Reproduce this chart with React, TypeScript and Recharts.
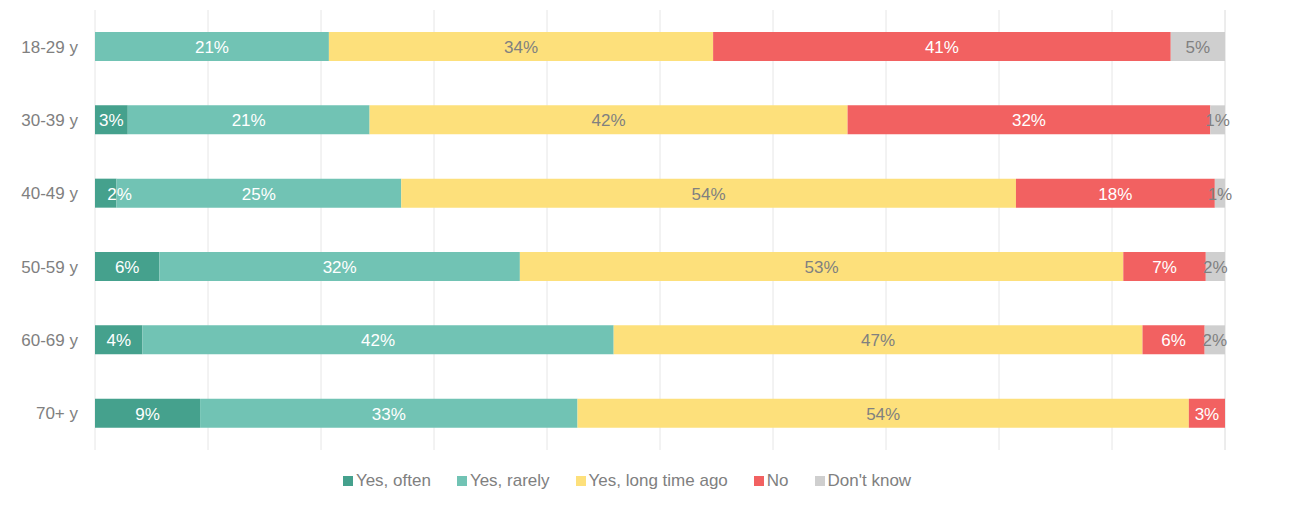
import React from "react";
import { BarChart, Bar, XAxis, YAxis, CartesianGrid, LabelList, Legend } from "recharts";

const categories = ["18-29 y", "30-39 y", "40-49 y", "50-59 y", "60-69 y", "70+ y"];
const yesOften = [0, 2.9, 1.9, 5.7, 4.2, 9.3];
const yesRarely = [20.7, 21.4, 25.2, 31.9, 41.7, 33.4];
const yesLongAgo = [34.0, 42.3, 54.4, 53.4, 46.8, 54.1];
const no = [40.5, 32.1, 17.6, 7.3, 5.5, 3.2];
const dontKnow = [4.8, 1.3, 0.9, 1.7, 1.8, 0];
const xTicks = [0, 10, 20, 30, 40, 50, 60, 70, 80, 90, 100];

const series = [
  { key: "often", name: "Yes, often", color: "#45a18d", label: "#ffffff" },
  { key: "rarely", name: "Yes, rarely", color: "#71c3b4", label: "#ffffff" },
  { key: "long", name: "Yes, long time ago", color: "#fde07b", label: "#808080" },
  { key: "no", name: "No", color: "#f26161", label: "#ffffff" },
  { key: "dk", name: "Don't know", color: "#cfcfcf", label: "#808080" },
];

const data = categories.map((name, i) => ({
  name,
  often: yesOften[i],
  rarely: yesRarely[i],
  long: yesLongAgo[i],
  no: no[i],
  dk: dontKnow[i],
}));

const FONT = "'Liberation Sans', Arial, sans-serif";
const FS = 17;
const PLOT_LEFT = 87;

const makeLabel = (fill: string) => (props: any) => {
  const { x, y, width, height, value } = props;
  if (!value) return null;
  const txt = `${Math.round(Number(value))}%`;
  const approxW = txt.length === 2 ? 25 : 35;
  let cx = Number(x) + Number(width) / 2;
  if (cx - approxW / 2 < PLOT_LEFT) cx = PLOT_LEFT + 12 + approxW / 2;
  return (
    <text
      x={cx}
      y={Number(y) + Number(height) / 2 + 1}
      fill={fill}
      fontSize={FS}
      fontFamily={FONT}
      textAnchor="middle"
      dominantBaseline="central"
    >
      {txt}
    </text>
  );
};

const LegendContent = () => (
  <div
    style={{
      display: "flex",
      justifyContent: "center",
      alignItems: "center",
      height: 20,
      fontFamily: FONT,
      fontSize: FS,
      color: "#808080",
      gap: 26,
    }}
  >
    {series.map((s) => (
      <div key={s.key} style={{ display: "flex", alignItems: "center" }}>
        <span style={{ display: "inline-block", width: 10, height: 10, background: s.color, marginRight: 3 }} />
        <span>{s.name}</span>
      </div>
    ))}
  </div>
);

export default function App() {
  return (
    <div style={{ width: 1283, height: 499 }}>
      <BarChart
        width={1283}
        height={499}
        data={data}
        layout="vertical"
        margin={{ top: 2, right: 66, bottom: 37, left: 0 }}
        barSize={29}
      >
        <CartesianGrid horizontal={false} vertical={true} stroke="#e6e6e6" />
        <XAxis type="number" domain={[0, 100]} ticks={xTicks} hide />
        <YAxis
          type="category"
          dataKey="name"
          width={87}
          axisLine={false}
          tickLine={false}
          tickSize={0}
          tickMargin={17}
          tick={{ fill: "#808080", fontSize: FS, fontFamily: FONT }}
        />
        <Legend
          verticalAlign="bottom"
          content={<LegendContent />}
          wrapperStyle={{ top: 463, left: 0, width: 1238, height: 20 }}
        />
        {series.map((s) => (
          <Bar key={s.key} dataKey={s.key} name={s.name} stackId="a" fill={s.color} isAnimationActive={false}>
            <LabelList dataKey={s.key} content={makeLabel(s.label)} />
          </Bar>
        ))}
      </BarChart>
    </div>
  );
}
